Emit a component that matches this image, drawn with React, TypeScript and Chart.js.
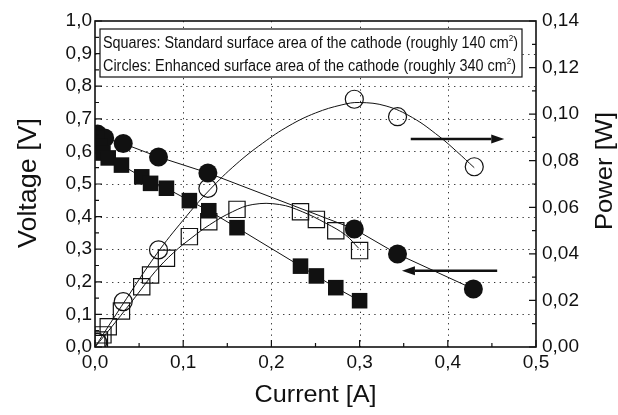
import React, { useEffect, useRef } from "react";
import { Chart, registerables } from "chart.js";

Chart.register(...registerables);

// ---- Data ----
// Standard cathode (squares)
const stdCurrent = [0.002, 0.005, 0.009, 0.015, 0.030, 0.053, 0.063, 0.081, 0.107, 0.129, 0.161, 0.233, 0.251, 0.273, 0.300];
const stdVoltage = [0.64, 0.615, 0.595, 0.58, 0.558, 0.522, 0.502, 0.487, 0.449, 0.418, 0.366, 0.248, 0.218, 0.182, 0.142];
const stdPower = [0.0015, 0.003, 0.0052, 0.0087, 0.0155, 0.0259, 0.0309, 0.0381, 0.0474, 0.0538, 0.0591, 0.0581, 0.0548, 0.0499, 0.0414];

// Enhanced cathode (circles)
const enhCurrent = [0.003, 0.011, 0.032, 0.072, 0.128, 0.294, 0.343, 0.429];
const enhVoltage = [0.653, 0.641, 0.624, 0.583, 0.534, 0.362, 0.285, 0.178];
const enhPowerCurrent = [0.003, 0.032, 0.072, 0.128, 0.294, 0.343, 0.430];
const enhPower = [0.002, 0.0195, 0.0417, 0.0681, 0.1064, 0.0989, 0.0774];

// Fitted power curves
const stdFitCurrent = [0, 0.019, 0.046, 0.068, 0.089, 0.110, 0.130, 0.156, 0.179, 0.209, 0.235, 0.262, 0.284, 0.299];
const stdFitPower = [0, 0.0087, 0.0216, 0.0323, 0.0405, 0.0470, 0.0525, 0.0581, 0.0612, 0.0612, 0.0581, 0.0531, 0.0481, 0.0424];
const enhFitCurrent = [0, 0.03, 0.07, 0.10, 0.13, 0.16, 0.19, 0.22, 0.25, 0.28, 0.30, 0.33, 0.36, 0.39, 0.41, 0.43];
const enhFitPower = [0, 0.0175, 0.0400, 0.0545, 0.0675, 0.0785, 0.0875, 0.0950, 0.1005, 0.1040, 0.1050, 0.1035, 0.0985, 0.0905, 0.0840, 0.0770];

// Axes
const xRange = [0, 0.5];
const voltRange = [0, 1.0];
const powerRange = [0, 0.14];
const xStep = 0.1;
const voltStep = 0.1;
const powerStep = 0.02;

const legendLine1 = "Squares: Standard surface area of the cathode (roughly 140 cm";
const legendLine2 = "Circles: Enhanced surface area of the cathode (roughly 340 cm";
const xTitle = "Current [A]";
const yTitle = "Voltage [V]";
const y2Title = "Power [W]";

// arrows in data units: [x from, x to, voltage-axis y]
const arrowRight = [0.358, 0.464, 0.638];
const arrowLeft = [0.456, 0.348, 0.234];

const FONT = "'Liberation Sans', Arial, Helvetica, sans-serif";

const pts = (xs: number[], ys: number[]) => xs.map((x, i) => ({ x, y: ys[i] }));
const fmt = (d: number) => (v: any) => Number(v).toFixed(d).replace(".", ",");

function drawStretched(ctx: CanvasRenderingContext2D, text: string, cx: number, cy: number, size: number, width: number, rot: number) {
  ctx.save();
  ctx.font = `${size}px ${FONT}`;
  const w = ctx.measureText(text).width;
  ctx.translate(cx, cy);
  ctx.rotate(rot);
  ctx.scale(width / w, 1);
  ctx.textAlign = "center";
  ctx.textBaseline = "middle";
  ctx.fillStyle = "#111";
  ctx.fillText(text, 0, 0);
  ctx.restore();
}

function drawArrow(ctx: CanvasRenderingContext2D, x1: number, x2: number, y: number) {
  const dir = Math.sign(x2 - x1);
  const headLen = 13;
  const headHalf = 4.5;
  ctx.save();
  ctx.strokeStyle = "#111";
  ctx.fillStyle = "#111";
  ctx.lineWidth = 2.4;
  ctx.beginPath();
  ctx.moveTo(x1, y);
  ctx.lineTo(x2 - dir * headLen, y);
  ctx.stroke();
  ctx.beginPath();
  ctx.moveTo(x2, y);
  ctx.lineTo(x2 - dir * headLen, y - headHalf);
  ctx.lineTo(x2 - dir * headLen, y + headHalf);
  ctx.closePath();
  ctx.fill();
  ctx.restore();
}

const framePlugin = {
  id: "frame",
  beforeDatasetsDraw(chart: any) {
    const { ctx, chartArea: a, scales } = chart;
    const xs = scales.x, ys = scales.y;
    ctx.save();
    ctx.strokeStyle = "#333";
    ctx.lineWidth = 1;
    ctx.setLineDash([1.3, 4.4]);
    xs.ticks.forEach((t: any) => {
      if (t.value <= xRange[0] + 1e-9 || t.value >= xRange[1] - 1e-9) return;
      const px = Math.round(xs.getPixelForValue(t.value)) + 0.5;
      ctx.beginPath();
      ctx.moveTo(px, a.top);
      ctx.lineTo(px, a.bottom);
      ctx.stroke();
    });
    ys.ticks.forEach((t: any) => {
      if (t.value <= voltRange[0] + 1e-9 || t.value >= voltRange[1] - 1e-9) return;
      const py = Math.round(ys.getPixelForValue(t.value)) + 0.5;
      ctx.beginPath();
      ctx.moveTo(a.left, py);
      ctx.lineTo(a.right, py);
      ctx.stroke();
    });
    ctx.restore();
  },
  afterDraw(chart: any) {
    const { ctx, chartArea: a, scales } = chart;
    const xs = scales.x, ys = scales.y, y2 = scales.y2;
    ctx.save();
    // frame
    ctx.strokeStyle = "#111";
    ctx.lineWidth = 1.6;
    ctx.setLineDash([]);
    ctx.strokeRect(a.left, a.top, a.right - a.left, a.bottom - a.top);
    // ticks (inward, major + minor)
    ctx.lineWidth = 1.2;
    const major = 7, minor = 4;
    const tickSet = (scale: any, step: number, lo: number, hi: number, fn: (p: number, len: number) => void) => {
      const n = Math.round((hi - lo) / (step / 2));
      for (let i = 0; i <= n; i++) {
        const v = lo + (i * step) / 2;
        fn(scale.getPixelForValue(v), i % 2 === 0 ? major : minor);
      }
    };
    ctx.beginPath();
    tickSet(xs, xStep, xRange[0], xRange[1], (p, len) => {
      ctx.moveTo(p, a.bottom);
      ctx.lineTo(p, a.bottom - len);
    });
    tickSet(ys, voltStep, voltRange[0], voltRange[1], (p, len) => {
      ctx.moveTo(a.left, p);
      ctx.lineTo(a.left + len, p);
    });
    tickSet(y2, powerStep, powerRange[0], powerRange[1], (p, len) => {
      ctx.moveTo(a.right, p);
      ctx.lineTo(a.right - len, p);
    });
    ctx.stroke();

    // legend box
    const bx = a.left + 5, by = a.top + 8, bw = 422, bh = 48;
    ctx.fillStyle = "#fff";
    ctx.fillRect(bx, by, bw, bh);
    ctx.lineWidth = 1.2;
    ctx.strokeRect(bx, by, bw, bh);
    const drawLegendLine = (text: string, y: number, target: number) => {
      ctx.save();
      ctx.font = `16px ${FONT}`;
      const w1 = ctx.measureText(text).width;
      ctx.font = `9px ${FONT}`;
      const w2 = ctx.measureText("2").width;
      ctx.font = `16px ${FONT}`;
      const w3 = ctx.measureText(")").width;
      const total = w1 + w2 + w3;
      ctx.translate(bx + 3, y);
      ctx.scale(target / total, 1);
      ctx.fillStyle = "#111";
      ctx.textAlign = "left";
      ctx.textBaseline = "alphabetic";
      ctx.fillText(text, 0, 0);
      ctx.font = `9px ${FONT}`;
      ctx.fillText("2", w1, -7);
      ctx.font = `16px ${FONT}`;
      ctx.fillText(")", w1 + w2, 0);
      ctx.restore();
    };
    drawLegendLine(legendLine1, by + 19, 415);
    drawLegendLine(legendLine2, by + 42, 413);

    // arrows
    drawArrow(ctx, xs.getPixelForValue(arrowRight[0]), xs.getPixelForValue(arrowRight[1]), ys.getPixelForValue(arrowRight[2]));
    drawArrow(ctx, xs.getPixelForValue(arrowLeft[0]), xs.getPixelForValue(arrowLeft[1]), ys.getPixelForValue(arrowLeft[2]));

    // axis titles
    drawStretched(ctx, yTitle, 29, 183, 25, 130, -Math.PI / 2);
    drawStretched(ctx, xTitle, (a.left + a.right) / 2, 395, 24, 122, 0);
    drawStretched(ctx, y2Title, 605, 171, 24, 118, -Math.PI / 2);
    ctx.restore();
  },
};

export default function App() {
  const ref = useRef<HTMLCanvasElement | null>(null);
  useEffect(() => {
    document.body.style.margin = "0";
    if (!ref.current) return;
    const tickFont = { family: FONT, size: 19 };
    const chart = new Chart(ref.current, {
      type: "scatter",
      data: {
        datasets: [
          {
            label: "Standard voltage",
            data: pts(stdCurrent, stdVoltage),
            yAxisID: "y",
            showLine: true,
            borderColor: "#111",
            borderWidth: 1,
            backgroundColor: "#111",
            pointStyle: "rect",
            pointRadius: 11,
            pointBorderWidth: 0,
            order: 1,
          },
          {
            label: "Enhanced voltage",
            data: pts(enhCurrent, enhVoltage),
            yAxisID: "y",
            showLine: true,
            borderColor: "#111",
            borderWidth: 1,
            backgroundColor: "#111",
            pointStyle: "circle",
            pointRadius: 9.5,
            pointBorderWidth: 0,
            order: 1,
          },
          {
            label: "Standard power",
            data: pts(stdCurrent, stdPower),
            yAxisID: "y2",
            showLine: false,
            borderColor: "#111",
            backgroundColor: "rgba(0,0,0,0)",
            pointStyle: "rect",
            pointRadius: 11.5,
            pointBorderWidth: 1.2,
            order: 1,
          },
          {
            label: "Enhanced power",
            data: pts(enhPowerCurrent, enhPower),
            yAxisID: "y2",
            showLine: false,
            borderColor: "#111",
            backgroundColor: "rgba(0,0,0,0)",
            pointStyle: "circle",
            pointRadius: 9,
            pointBorderWidth: 1.2,
            order: 1,
          },
          {
            label: "Standard power fit",
            data: pts(stdFitCurrent, stdFitPower),
            yAxisID: "y2",
            showLine: true,
            borderColor: "#111",
            borderWidth: 1,
            pointRadius: 0,
            tension: 0.4,
            order: 2,
          },
          {
            label: "Enhanced power fit",
            data: pts(enhFitCurrent, enhFitPower),
            yAxisID: "y2",
            showLine: true,
            borderColor: "#111",
            borderWidth: 1,
            pointRadius: 0,
            tension: 0.4,
            order: 2,
          },
        ],
      },
      options: {
        responsive: false,
        animation: false,
        devicePixelRatio: 1,
        layout: { padding: { top: 21, left: 0, right: 0, bottom: 0 } },
        plugins: { legend: { display: false }, tooltip: { enabled: false } },
        scales: {
          x: {
            type: "linear",
            position: "bottom",
            min: xRange[0],
            max: xRange[1],
            ticks: { stepSize: xStep, callback: fmt(1), font: tickFont, color: "#111", padding: 4, maxRotation: 0, autoSkip: false },
            grid: { display: false, drawTicks: false },
            border: { display: false },
            afterFit: (s: any) => { s.height = 68; },
          },
          y: {
            type: "linear",
            position: "left",
            min: voltRange[0],
            max: voltRange[1],
            ticks: { stepSize: voltStep, callback: fmt(1), font: tickFont, color: "#111", padding: 3, autoSkip: false },
            grid: { display: false, drawTicks: false },
            border: { display: false },
            afterFit: (s: any) => { s.width = 95; },
          },
          y2: {
            type: "linear",
            position: "right",
            min: powerRange[0],
            max: powerRange[1],
            ticks: { stepSize: powerStep, callback: fmt(2), font: tickFont, color: "#111", padding: 6, autoSkip: false },
            grid: { display: false, drawTicks: false },
            border: { display: false },
            afterFit: (s: any) => { s.width = 82; },
          },
        },
      },
      plugins: [framePlugin],
    } as any);
    return () => chart.destroy();
  }, []);
  return (
    <div style={{ position: "absolute", left: 0, top: 0, width: 618, height: 415, background: "#fff" }}>
      <canvas ref={ref} width={618} height={415} style={{ width: 618, height: 415 }} />
    </div>
  );
}
